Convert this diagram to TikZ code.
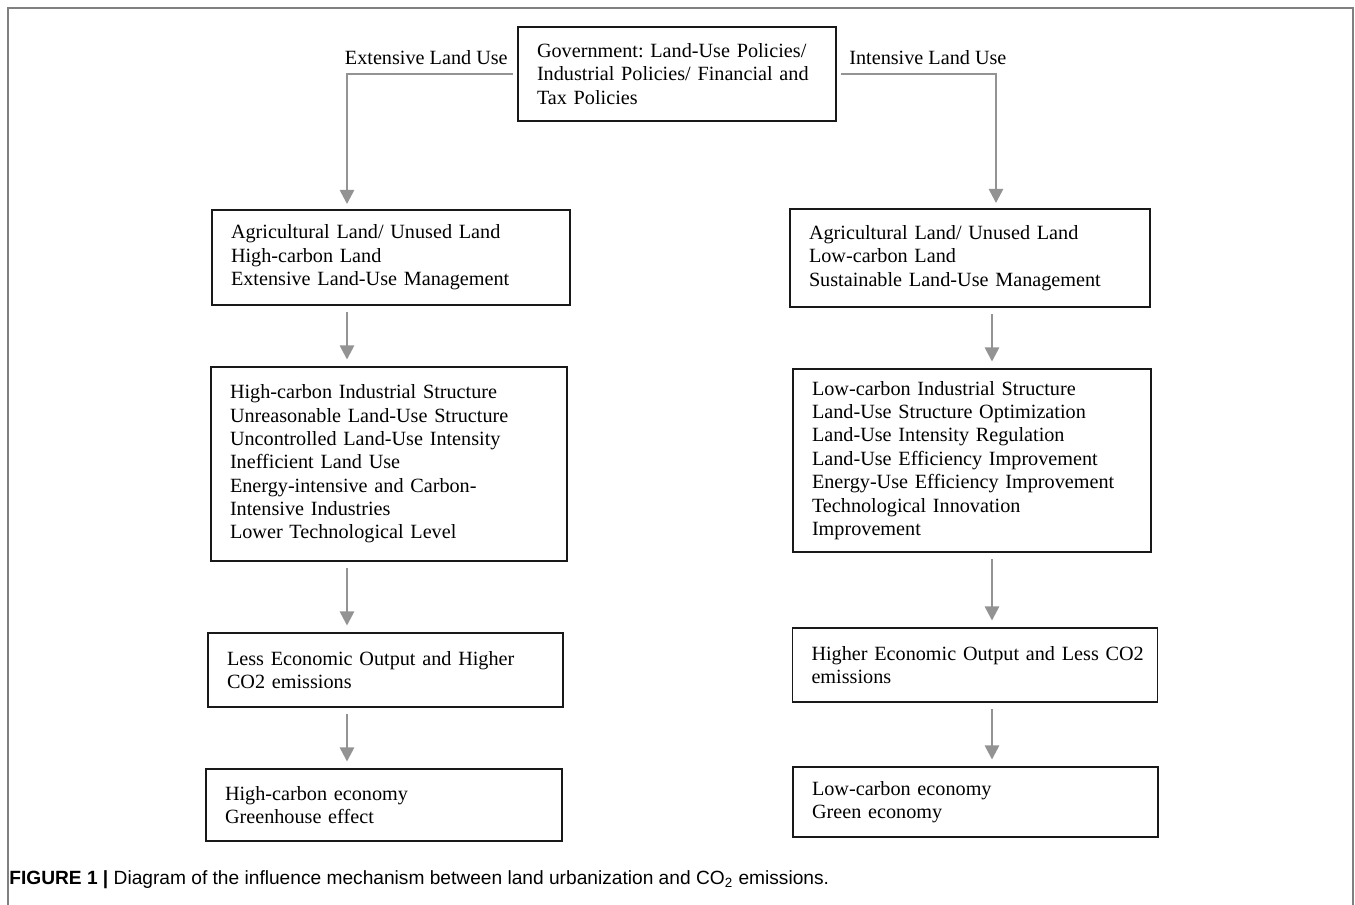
\documentclass[tikz,border=0pt]{standalone}
\usepackage{fontspec}
\setmainfont{Liberation Serif}
\setsansfont{Liberation Sans}
\usetikzlibrary{calc,positioning,arrows.meta}
\tikzstyle{TextBox} = [rectangle, draw=black!90, line width=1.1pt, align=left,
    inner xsep=0.38cm, inner ysep=0pt, font=\fontsize{11.5pt}{13.3pt}\selectfont\frenchspacing]
\tikzstyle{Label} = [inner sep=0pt, font=\fontsize{11.5pt}{13.3pt}\selectfont]
\tikzstyle{arrow} = [line width=1.4pt, draw=gray!85, -{Triangle[width=8pt,length=8pt,fill=gray!85]},
    shorten >=0.13cm, shorten <=0.13cm]

\begin{document}
\begin{tikzpicture}
        \useasboundingbox (0,0) rectangle (27.1,-18.1);
        \draw [gray, line width=0.9pt] (0.16,-18.1) -- (0.16,-0.16) -- (27.06,-0.16) -- (27.06,-18.1); %outer frame
        \coordinate (LeftCol) at (6.94,-1.5);
        \coordinate (RightCol) at (19.92,-1.5);
        \coordinate (RightDown) at (19.84,-1.5);
        \node[TextBox, text width=5.6cm, minimum height=1.88cm] (Gov) at (13.54,-1.48) {
            Government: Land-Use Policies/\\Industrial Policies/ Financial and\\Tax Policies
        };
        \node[Label, anchor=east, left=0.18cm of Gov.west, yshift=0.32cm] (Extensive) {Extensive Land Use};
        \node[Label, anchor=west, right=0.24cm of Gov.east, yshift=0.32cm] (Intensive) {Intensive Land Use};
        %left branch
        \node[TextBox, text width=6.4cm, minimum height=1.9cm] (HighLand) at (7.82,-5.15) {
            Agricultural Land/ Unused Land\\High-carbon Land\\Extensive Land-Use Management
        };
        \node[TextBox, text width=6.36cm, minimum height=3.88cm] (HighStruct) at (7.78,-9.28) {
            High-carbon Industrial Structure\\Unreasonable Land-Use Structure\\Uncontrolled Land-Use Intensity\\
            Inefficient Land Use\\Energy-intensive and Carbon-\\Intensive Industries\\Lower Technological Level
        };
        \node[TextBox, text width=6.34cm, minimum height=1.48cm] (LessOutput) at (7.71,-13.4) {
            Less Economic Output and Higher\\CO2 emissions
        };
        \node[TextBox, text width=6.36cm, minimum height=1.44cm] (HighEcon) at (7.68,-16.1) {
            High-carbon economy\\Greenhouse effect
        };
        %right branch
        \node[TextBox, text width=6.44cm, minimum height=1.96cm] (LowLand) at (19.4,-5.16) {
            Agricultural Land/ Unused Land\\Low-carbon Land\\Sustainable Land-Use Management
        };
        \node[TextBox, text width=6.4cm, minimum height=3.66cm] (LowStruct) at (19.44,-9.21) {
            Low-carbon Industrial Structure\\Land-Use Structure Optimization\\Land-Use Intensity Regulation\\
            Land-Use Efficiency Improvement\\Energy-Use Efficiency Improvement\\Technological Innovation\\Improvement
        };
        \node[TextBox, text width=6.54cm, minimum height=1.48cm] (HighOutput) at (19.5,-13.3) {
            \mbox{Higher Economic Output and Less CO2}\\emissions
        };
        \node[TextBox, text width=6.54cm, minimum height=1.4cm] (LowEcon) at (19.51,-16.04) {
            Low-carbon economy\\Green economy
        };
        %connectors
        \draw[arrow, shorten <=0.08cm, shorten >=0.1cm] (Gov.west) -- (Gov.west -| LeftCol) -- (HighLand.north -| LeftCol);
        \draw[arrow, shorten <=0.08cm, shorten >=0.1cm] (Gov.east) -- (Gov.east -| RightCol) -- (LowLand.north -| RightCol);
        \draw[arrow] (HighLand.south -| LeftCol) -- (HighStruct.north -| LeftCol);
        \draw[arrow] (HighStruct.south -| LeftCol) -- (LessOutput.north -| LeftCol);
        \draw[arrow] (LessOutput.south -| LeftCol) -- (HighEcon.north -| LeftCol);
        \draw[arrow] (LowLand.south -| RightDown) -- (LowStruct.north -| RightDown);
        \draw[arrow] (LowStruct.south -| RightDown) -- (HighOutput.north -| RightDown);
        \draw[arrow] (HighOutput.south -| RightDown) -- (LowEcon.north -| RightDown);
        %caption
        \node[anchor=west, inner sep=0pt, font=\sffamily\fontsize{10.9pt}{12pt}\selectfont] (Caption) at (0.18,-17.6) {
            \textbf{FIGURE 1 |} Diagram of the influence mechanism between land urbanization and CO\textsubscript{2} emissions.
        };
    \end{tikzpicture}
\end{document}
